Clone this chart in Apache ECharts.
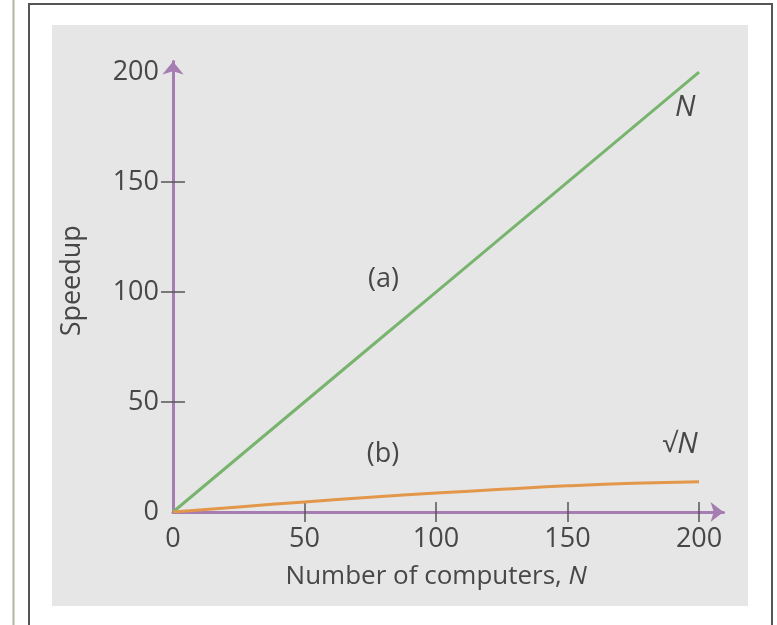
<!DOCTYPE html>
<html>
<head>
<meta charset="utf-8">
<script src="https://cdn.jsdelivr.net/npm/echarts@6/dist/echarts.min.js"></script>
<style>
  html, body { margin: 0; padding: 0; background: #fff; }
  #chart { width: 777px; height: 625px; }
</style>
</head>
<body>
<div id="chart"></div>
<script>
// data
var computers = [0, 25, 50, 75, 100, 125, 150, 175, 200];
var speedupA = [0, 25, 50, 75, 100, 125, 150, 175, 200];   // (a) N
var speedupB = [0, 2.3, 4.6, 6.7, 8.6, 10.3, 11.9, 13.1, 13.8]; // (b) sqrt N

var xTickValues = [50, 100, 150, 200];
var xLabelValues = [0, 50, 100, 150, 200];
var yTickValues = [50, 100, 150];
var yLabelValues = [0, 50, 100, 150, 200];

var notesA = [['(a)', 80, 105.5], ['N', 194.7, 183.6]];
var notesB = [['(b)', 79.8, 25.9], ['√N', 192.8, 30.5]];

var green = '#79b46f', orange = '#e2974a', purple = '#a57db3', ink = '#474747';
var font = 'Open Sans';

function pairs(xs, ys) {
    return xs.map(function (x, i) { return [x, ys[i]]; });
}
function notes(list) {
    return list.map(function (n) {
        var txt = n[0];
        if (txt === 'N') txt = '{i|N}';
        if (txt === '√N') txt = '√{i|N}';
        return { coord: [n[1], n[2]], label: { formatter: txt } };
    });
}
var noteStyle = {
    symbolSize: 1,
    itemStyle: { color: 'transparent' },
    label: {
        show: true, position: 'inside', color: ink, fontFamily: font, fontSize: 27,
        rich: { i: { fontStyle: 'italic', fontFamily: font, fontSize: 29, color: ink } }
    },
    silent: true
};

var chart = echarts.init(document.getElementById('chart'));
var option = {
    backgroundColor: '#fff',
    animation: false,
    graphic: [
        { type: 'line', z: -100, shape: { x1: 13.5, y1: 0, x2: 13.5, y2: 625 }, style: { stroke: '#b5b3a0', lineWidth: 2 } },
        { type: 'rect', z: -100, shape: { x: 29, y: 4, width: 743, height: 640 }, style: { fill: '#fff', stroke: '#555', lineWidth: 2 } },
        { type: 'rect', z: -99, shape: { x: 52, y: 25, width: 696, height: 581 }, style: { fill: '#e6e6e6' } }
    ],
    grid: { left: 173, right: 53.5, top: 61.5, bottom: 113 },
    xAxis: [{
        type: 'value', min: 0, max: 209.3, position: 'bottom',
        name: 'Number of computers, {i|N}', nameLocation: 'middle', nameGap: 52,
        nameTextStyle: { color: ink, fontFamily: font, fontSize: 26, padding: [0, 24, 0, 0],
            rich: { i: { fontStyle: 'italic', fontFamily: font, fontSize: 26, color: ink } } },
        axisLine: { show: true, onZero: false, symbol: ['none', 'arrow'], symbolSize: [15, 13],
            lineStyle: { color: purple, width: 3 } },
        axisTick: { show: true, customValues: xTickValues, length: 10, lineStyle: { color: '#555', width: 1.5 } },
        axisLabel: { customValues: xLabelValues, margin: 14, color: ink, fontFamily: font, fontSize: 27 },
        splitLine: { show: false }
    }, {
        type: 'value', min: 0, max: 209.3, position: 'bottom',
        axisLine: { show: false },
        axisTick: { show: true, inside: true, customValues: xTickValues, length: 10, lineStyle: { color: '#555', width: 1.5 } },
        axisLabel: { show: false },
        splitLine: { show: false }
    }],
    yAxis: [{
        type: 'value', min: 0, max: 204.8, position: 'left',
        name: 'Speedup', nameLocation: 'middle', nameGap: 87, nameRotate: 90,
        nameTextStyle: { color: ink, fontFamily: font, fontSize: 27, padding: [0, 0, 0, 12] },
        axisLine: { show: true, onZero: false, symbol: ['none', 'arrow'], symbolSize: [16, 13],
            lineStyle: { color: purple, width: 3 } },
        axisTick: { show: true, customValues: yTickValues, length: 12, lineStyle: { color: '#555', width: 1.5 } },
        axisLabel: { customValues: yLabelValues, margin: 14, color: ink, fontFamily: font, fontSize: 27 },
        splitLine: { show: false }
    }, {
        type: 'value', min: 0, max: 204.8, position: 'left',
        axisLine: { show: false },
        axisTick: { show: true, inside: true, customValues: yTickValues, length: 12, lineStyle: { color: '#555', width: 1.5 } },
        axisLabel: { show: false },
        splitLine: { show: false }
    }],
    series: [{
        name: '(a)', type: 'line', xAxisIndex: 0, yAxisIndex: 0,
        data: pairs(computers, speedupA), showSymbol: false,
        lineStyle: { color: green, width: 3 },
        markPoint: Object.assign({ data: notes(notesA) }, noteStyle)
    }, {
        name: '(b)', type: 'line', xAxisIndex: 0, yAxisIndex: 0, smooth: true,
        data: pairs(computers, speedupB), showSymbol: false,
        lineStyle: { color: orange, width: 3 },
        markPoint: Object.assign({ data: notes(notesB) }, noteStyle)
    }]
};
chart.setOption(option);
window.addEventListener('resize', chart.resize);
</script>
</body>
</html>
